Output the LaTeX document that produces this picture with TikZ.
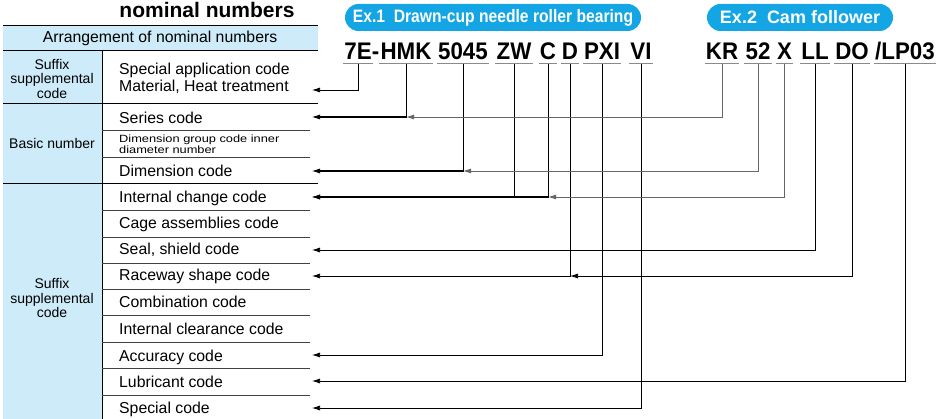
\documentclass[tikz,border=0pt]{standalone}
\usepackage{fontspec}
\setmainfont{Liberation Sans}
\newfontfamily\codefont[FakeStretch=0.93]{Liberation Sans}
\newfontfamily\pillfontA[FakeStretch=0.87]{Liberation Sans}
\newfontfamily\pillfontB{Liberation Sans}
\usetikzlibrary{arrows.meta,calc}
\definecolor{lblue}{HTML}{CDEBF9}
\definecolor{pillblue}{HTML}{14A6E4}
\definecolor{ulinegray}{HTML}{8A8A8A}
\definecolor{conngray}{HTML}{666666}
\begin{document}
\begin{tikzpicture}[x=1pt,y=-1pt,
  rowtxt/.style={anchor=base west,inner sep=0pt,font=\fontsize{15.8}{15.8}\selectfont},
  smalltxt/.style={anchor=west,inner sep=0pt,align=left,font=\fontsize{10.5}{8.8}\selectfont},
  lefttxt/.style={align=center,inner sep=0pt,font=\fontsize{14}{14.5}\selectfont},
  codetxt/.style={anchor=base,inner sep=0pt,font=\codefont\bfseries\fontsize{24}{24}\selectfont},
  pillbox/.style={fill=pillblue,text=white,rounded corners=13.5pt,minimum height=27pt,inner sep=0pt},
  rowline/.style={draw=black!75,line width=0.6pt},
  secline/.style={draw=black,line width=0.7pt},
  uline/.style={draw=ulinegray,line width=1.4pt},
  conn/.style={draw=black,line width=0.75pt,-{Latex[length=8pt,width=5pt]}},
  conntwo/.style={draw=conngray,line width=0.9pt,-{Latex[length=8pt,width=5pt]}},
  thickh/.style={draw=black,line width=1.4pt,shorten >=6pt},
]
\useasboundingbox (0,0) rectangle (939,419);

% ---------- table backgrounds ----------
\fill[lblue] (3,25) rectangle (318,50);
\fill[lblue] (3,50) rectangle (102,419);
\draw[secline] (3,25) -- (318,25);
\draw[secline] (3,50) -- (318,50);
\draw[secline] (3,103) -- (318,103);
\draw[secline] (3,183) -- (318,183);
\draw[secline] (102,50) -- (102,419);
\foreach \yy in {130,157,210,237,263,289,315,342,368,395}
  \draw[rowline] (102,\yy) -- (310,\yy);

% ---------- title and header ----------
\node[anchor=base,inner sep=0pt,font=\bfseries\fontsize{21}{21}\selectfont] (title) at (207,18) {nominal numbers};
\node[anchor=base,inner sep=0pt,font=\fontsize{15.8}{15.8}\selectfont] (header) at (160,43) {Arrangement of nominal numbers};

% ---------- left column ----------
\node[lefttxt] (lSufA) at (52,79) {Suffix\\supplemental\\code};
\node[lefttxt] (lBasic) at (52,143) {Basic number};
\node[lefttxt] (lSufB) at (52,298) {Suffix\\supplemental\\code};

% ---------- row texts ----------
\node[rowtxt] (rSA1) at (119,75) {Special application code};
\node[rowtxt] (rSA2) at (119,92) {Material, Heat treatment};
\node[rowtxt] (rSer) at (119,124) {Series code};
\node[smalltxt] (rDG) at (119,144) {\scalebox{1.22}[1]{Dimension group code inner}\\\scalebox{1.22}[1]{diameter number}};
\node[rowtxt] (rDim) at (119,176.5) {Dimension code};
\node[rowtxt] (rInt) at (119,202.5) {Internal change code};
\node[rowtxt] (rCage) at (119,228.5) {Cage assemblies code};
\node[rowtxt] (rSeal) at (119,254.5) {Seal, shield code};
\node[rowtxt] (rRace) at (119,281) {Raceway shape code};
\node[rowtxt] (rComb) at (119,308) {Combination code};
\node[rowtxt] (rClr) at (119,334.5) {Internal clearance code};
\node[rowtxt] (rAcc) at (119,361) {Accuracy code};
\node[rowtxt] (rLub) at (119,387.5) {Lubricant code};
\node[rowtxt] (rSpec) at (119,413.5) {Special code};

% arrow targets
\coordinate (tSA) at (312,90);
\coordinate (tSer) at (312,117);
\coordinate (tDim) at (312,171);
\coordinate (tInt) at (312,197);
\coordinate (tSeal) at (312,250);
\coordinate (tRace) at (312,276);
\coordinate (tAcc) at (312,355);
\coordinate (tLub) at (312,381);
\coordinate (tSpec) at (312,408);

% ---------- pills ----------
\node[pillbox,minimum width=296pt] (ex1) at (493,17.5) {\pillfontA\bfseries\fontsize{18}{18}\selectfont Ex.1\ \ Drawn-cup needle roller bearing};
\node[pillbox,minimum width=186pt] (ex2) at (800,17.5) {\pillfontB\bfseries\fontsize{18}{18}\selectfont Ex.2\ \ Cam follower};

% ---------- code segments ----------
\node[codetxt] (c7E) at (358,60) {7E};
\node[codetxt] (cDash) at (375.5,60) {-};
\node[codetxt] (cHMK) at (406,60) {HMK};
\node[codetxt] (c5045) at (463,60) {5045};
\node[codetxt] (cZW) at (514,60) {ZW};
\node[codetxt] (cC) at (548,60) {C};
\node[codetxt] (cD) at (570,60) {D};
\node[codetxt] (cPXI) at (602,60) {PXI};
\node[codetxt] (cVI) at (641,60) {VI};
\node[codetxt] (cKR) at (722,60) {KR};
\node[codetxt] (c52) at (758,60) {52};
\node[codetxt] (cX) at (784.5,60) {X};
\node[codetxt] (cLL) at (815,60) {LL};
\node[codetxt] (cDO) at (852,60) {DO};
\node[codetxt] (cLP) at (905,60) {/LP03};

\foreach \n in {c7E,cHMK,c5045,cZW,cC,cD,cPXI,cVI,cKR,c52,cX,cLL,cDO,cLP}
  \draw[uline] ([xshift=-1pt,yshift=-3.5pt]\n.base west) -- ([xshift=1pt,yshift=-3.5pt]\n.base east);

% ---------- Ex.1 connectors ----------
\draw[conn] ([yshift=-4pt]c7E.base) |- (tSA);
\draw[conn] ([yshift=-4pt]cHMK.base) |- (tSer);
\draw[thickh] (cHMK.base |- tSer) -- (tSer);
\draw[conn] ([yshift=-4pt]c5045.base) |- (tDim);
\draw[thickh] (c5045.base |- tDim) -- (tDim);
\draw[conn] ([yshift=-4pt]cZW.base) |- (tInt);
\draw[conn] ([yshift=-4pt]cC.base) |- (tInt);
\draw[thickh] (cC.base |- tInt) -- (tInt);
\draw[conn] ([yshift=-4pt]cD.base) |- (tRace);
\draw[conn] ([yshift=-4pt]cPXI.base) |- (tAcc);
\draw[conn] ([yshift=-4pt]cVI.base) |- (tSpec);

% ---------- Ex.2 connectors ----------
\draw[conntwo] ([yshift=-4pt]cKR.base) |- (cHMK.base |- tSer);
\draw[conntwo] ([yshift=-4pt]c52.base) |- (c5045.base |- tDim);
\draw[conntwo] ([yshift=-4pt]cX.base) |- (cC.base |- tInt);
\draw[conn] ([yshift=-4pt]cLL.base) |- (tSeal);
\draw[conn] ([yshift=-4pt]cDO.base) |- (cD.base |- tRace);
\draw[conn] ([yshift=-4pt]cLP.base) |- (tLub);
\end{tikzpicture}
\end{document}
